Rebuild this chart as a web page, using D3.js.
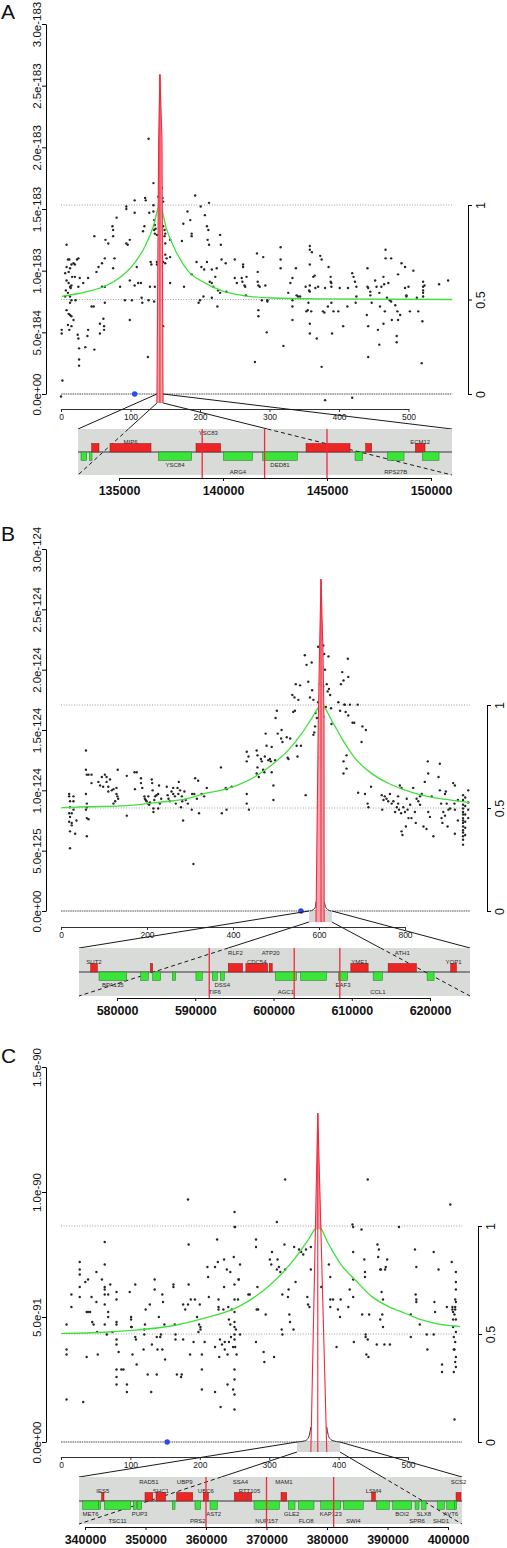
<!DOCTYPE html>
<html><head><meta charset="utf-8">
<script src="https://cdn.jsdelivr.net/npm/d3@7"></script>
<style>
body{margin:0;background:#fff}
svg{display:block;font-family:"Liberation Sans",Arial,Helvetica,sans-serif}
</style>
</head><body>
<svg id="c" width="507" height="1548"></svg>
<script>
// ================= DATA =================
// Panel A
const leftTicksA = [0,0.5,1,1.5,2,2.5,3];
const leftLabelsA = ["0.0e+00","5.0e-184","1.0e-183","1.5e-183","2.0e-183","2.5e-183","3.0e-183"];
const markerTicksA = [0,100,200,300,400,500];
const genomicTicksA = [135000,140000,145000,150000];
const lastMarkerA = 563;
const blueMarkerA = 106;
const windowA = [138,147];
const spikeLeftA = [[138,0],[140.5,2.06],[142.3,2.59]];
const spikeRightA = [[142.3,2.59],[145.3,2.06],[146.8,0]];
const spikeCenterA = [142.3,2.59];
const spikeFillA = [[138,0],[140.5,2.06],[142.3,2.59],[145.3,2.06],[146.8,0]];
const profileA = [];
const redLinesA = [139000,142000,145000];
const greenA = [[1,0.517],[39,0.543],[63,0.57],[87,0.623],[106,0.694],[121,0.782],[133,0.888],[142,1.0],[152,0.871],[164,0.765],[183,0.65],[207,0.588],[231,0.547],[260,0.522],[303,0.508],[375,0.503],[563,0.5]];
const pointsA = [
[1,0.52],[1,0.49],[2,0.11],[8,1.21],[10,1.09],[12,1.09],[8,1.03],[11,0.99],[13,1.02],[15,1.05],[18,1.06],[20,1.05],[23,1.09],[25,1.1],[6,0.98],[8,0.92],[11,0.9],[13,0.87],[15,0.88],[7,0.84],[10,0.82],[13,0.79],[15,0.76],[8,0.68],[11,0.65],[13,0.64],[15,0.63],[18,0.6],[10,0.56],[12,0.52],[15,0.55],[13,0.74],[14,0.86],[16,0.95],[6,0.79],[24,0.48],[25,0.45],[26,0.37],[26,0.28],[26,0.23],[25,0.87],[27,0.94],[21,0.76],[20,0.95],
[32,0.9],[35,0.38],[38,0.47],[39,0.52],[39,0.94],[44,0.71],[47,0.71],[48,1.28],[48,0.36],[51,0.99],[54,1.03],[56,0.49],[56,0.57],[59,0.87],[59,1.06],[61,0.61],[62,0.55],[62,0.52],[63,1.1],[63,0.74],[63,0.87],[64,1.25],[68,1.22],[74,1.36],[75,1.33],[75,1.28],[75,1.02],[77,1.1],[80,1.43],[85,0.87],[92,0.76],[94,1.52],[94,1.5],[94,1.22],[96,1.21],[99,1.25],[99,0.92],[99,0.6],[102,0.76],[106,1.57],[106,1.47],[106,0.88],[109,1.03],[111,0.9],[115,0.9],[116,0.78],[117,0.74],[118,1.32],[120,1.36],[121,1.59],[122,1.57],[125,0.3],[126,2.07],[126,0.76],[127,1.47],[128,0.87],[129,1.07],[130,1.05],
[133,1.71],[133,1.53],[133,1.48],[134,1.41],[135,1.37],[136,1.34],[134,1.33],[135,1.3],[138,1.29],[140,1.6],[138,1.07],[138,1.05],[142,1.63],[145,1.67],[146,1.59],[147,1.56],[147,1.36],[149,1.33],[150,1.3],[149,1.28],[150,1.22],[147,1.07],[150,1.06],[147,0.55],[150,1.13],[152,1.1],[135,0.87],[134,0.75],
[157,1.25],[157,1.11],[157,0.9],[174,1.24],[176,1.38],[177,0.87],[182,1.48],[186,1.41],[188,1.3],[188,1.28],[188,0.97],[193,1.61],[195,1.07],[198,0.74],[200,0.76],[201,1.52],[202,1.03],[205,0.79],[206,1.01],[207,1.45],[210,1.36],[210,1.07],[211,1.25],[212,1.33],[213,1.55],[213,1.21],[214,0.91],[217,0.9],[217,0.78],[217,1.01],[219,0.87],[222,0.95],[224,1.02],[225,0.71],[226,0.84],[229,0.82],[229,1.29],[230,1.21],[231,1.09],[237,1.06],[238,0.83],
[250,1.09],[250,0.94],[253,0.9],[260,0.94],[261,0.91],[262,1.05],[262,1.03],[264,0.88],[265,0.87],[266,0.8],[267,0.95],[279,0.26],[282,1.14],[283,0.99],[283,0.91],[284,0.88],[284,0.68],[284,0.63],[286,0.87],[289,0.76],[291,1.11],[294,0.88],[296,0.5],[297,0.76],[297,0.75],
[316,1.19],[316,1.09],[316,1.02],[320,0.39],[327,0.82],[330,0.9],[333,0.94],[333,0.76],[333,0.71],[333,0.6],[338,1.02],[339,0.8],[341,0.79],[344,0.79],[352,0.87],[353,0.67],[355,0.68],[356,0.74],[357,0.84],[358,1.2],[358,1.17],[358,1.05],[358,0.88],[358,0.83],[358,0.57],[358,0.49],[360,0.67],[361,1.15],[363,0.95],[365,0.96],[366,0.86],[368,0.45],[370,0.87],[373,1.12],[375,1.09],[375,0.22],[377,0.67],[379,0.66],[380,0.86],[384,0.71],[385,1.03],
[388,0.95],[388,0.91],[389,0.9],[389,0.87],[389,0.74],[390,0.49],[392,0.67],[399,0.67],[401,0.86],[406,0.55],[412,0.71],[413,0.86],[419,0.98],[421,0.95],[423,0.91],[424,0.74],[425,0.87],[425,0.79],
[440,0.64],[441,1.02],[441,0.87],[442,0.86],[442,0.55],[442,0.3],[445,0.83],[445,0.8],[447,0.74],[452,0.92],[454,0.87],[456,0.52],[458,0.82],[458,0.4],[459,0.71],[461,0.87],[464,0.95],[464,0.57],[465,0.89],[466,0.67],[467,1.17],[467,1.1],[469,0.78],[471,0.9],[473,0.76],[475,1.1],[475,0.75],[476,0.6],[481,0.72],[483,0.47],[483,0.42],[484,0.67],[485,0.6],[485,0.97],[488,0.64],[490,1.06],[495,1.03],[495,0.86],[497,0.8],[497,0.79],[500,0.87],[502,0.67],[507,1.0],[512,0.78],[514,0.67],[519,0.25],[520,0.59],[521,0.91],[521,0.87],[521,0.84],[521,0.82],[521,0.79],[523,0.88],
[544,0.89],[557,0.92],[380,-0.05],[419,-0.03],[0,-0.02]
];
const genesA = [
["",133686,134038,"+"],["MIP6",134567,136539,"+"],["YSC83",138702,139888,"+"],["",143991,146106,"+"],["",146860,147148,"+"],["ECM12",149248,149712,"+"],
["",133173,133445,"-"],["",133574,133702,"-"],["YSC84",136891,138494,"-"],["ARG4",140016,141427,"-"],["DED81",141907,143574,"-"],["",146347,146715,"-"],["RPS27B",147901,148703,"-"],["",149584,150386,"-"]
];

// Panel B
const leftTicksB = [0,0.5,1,1.5,2,2.5,3];
const leftLabelsB = ["0.0e+00","5.0e-125","1.0e-124","1.5e-124","2.0e-124","2.5e-124","3.0e-124"];
const markerTicksB = [0,200,400,600,800];
const genomicTicksB = [580000,590000,600000,610000,620000];
const lastMarkerB = 951;
const blueMarkerB = 558;
const windowB = [577,630];
const spikeLeftB = [[593,0],[598.4,1.58],[601.2,2.14],[604.7,2.75]];
const spikeRightB = [[604.7,2.75],[609.3,2.14],[611.6,1.58],[612,0]];
const spikeCenterB = [604.7,2.75];
const spikeFillB = [[593,0],[598.4,1.58],[601.2,2.14],[604.7,2.75],[609.3,2.14],[611.6,1.58],[612,0]];
const profileB = [[[579,0],[586,0.01],[591,0.03],[593,0.077]],[[612,0.077],[616,0.03],[621,0.01],[628,0]]];
const redLinesB = [591790,602645,608477];
const greenB = [[2,0.502],[64,0.506],[141,0.51],[219,0.526],[296,0.547],[335,0.571],[374,0.587],[412,0.612],[451,0.652],[490,0.709],[529,0.782],[560,0.862],[583,0.935],[606,1.0],[629,0.927],[653,0.838],[684,0.741],[722,0.668],[761,0.62],[800,0.587],[839,0.563],[878,0.547],[916,0.536],[951,0.526]];
const pointsB = [
[19,0.97],[19,0.95],[21,0.91],[21,0.86],[19,0.81],[21,0.78],[19,0.74],[25,0.81],[29,0.95],[29,0.91],[25,0.73],[21,0.66],[33,0.64],[36,0.75],[21,0.52],[25,0.71],[29,0.84],
[58,1.33],[58,1.17],[60,1.13],[64,1.13],[71,1.13],[58,0.97],[60,0.89],[60,0.86],[58,0.84],[60,0.77],[64,0.76],[60,0.62],[71,1.06],
[87,1.07],[91,1.04],[95,1.11],[98,1.03],[102,1.13],[106,1.11],[106,1.07],[110,0.99],[110,1.03],[114,1.09],[118,1.0],[122,1.01],[129,1.02],[129,0.97],[131,0.95],[132,1.17],[133,0.93],[126,0.91],[122,0.89],
[153,1.12],[153,0.79],[171,1.15],[172,1.01],[176,1.15],[186,1.1],[186,1.06],[189,1.02],
[194,0.95],[195,0.93],[197,0.92],[199,0.91],[202,0.89],[203,0.95],[205,0.88],[207,0.9],[211,1.09],[212,1.06],[213,1.0],[215,0.85],[215,0.82],[217,0.92],[219,0.95],[222,0.96],[226,0.97],[226,0.85],[228,1.04],[230,0.89],[233,0.93],
[246,1.03],[248,0.96],[250,0.93],[253,0.91],[257,0.99],[261,1.02],[261,0.97],[265,0.95],[267,0.89],[271,1.02],[273,0.97],[274,1.07],[277,1.0],[279,0.86],[281,0.95],[282,0.91],[284,0.75],[287,0.99],[290,0.92],[295,0.89],
[304,0.84],[305,0.97],[308,0.39],[310,0.97],[312,1.1],[316,0.93],[319,1.08],[321,0.81],[327,0.97],[333,0.95],[339,1.02],
[372,1.19],[374,0.81],[383,1.02],[385,1.01],[385,0.84],[397,1.03],
[432,1.32],[432,1.24],[432,0.97],[432,0.89],[436,1.28],[437,0.84],[455,1.33],[457,1.19],[457,1.29],[455,1.14],[460,1.11],[465,1.26],[467,1.24],[470,1.17],[473,1.15],[474,1.28],[476,1.47],[478,1.37],[482,1.25],[486,1.26],[488,1.24],[490,1.36],[490,1.15],[494,1.04],[494,0.92],[498,1.25],[499,1.6],[502,1.66],
[504,1.47],[512,1.43],[513,1.5],[515,1.4],[525,1.44],[527,1.27],[529,1.26],[533,1.43],[538,1.79],[540,1.65],[543,1.77],[544,1.66],[546,1.88],[548,1.37],[550,1.28],[552,1.75],[556,1.87],[558,1.37],[567,2.12],[569,0.96],[571,2.04],
[575,1.9],[579,1.77],[583,2.06],[584,1.83],[587,1.75],[587,1.46],[589,1.48],[591,1.53],[592,1.64],[595,1.6],[598,1.73],[601,1.27],[602,1.88],[598,2.19],
[610,2.2],[610,1.86],[610,1.61],[612,2.13],[614,2.0],[616,1.69],[618,1.88],[620,1.82],[622,2.11],[623,1.84],[626,1.79],[628,1.68],[629,1.55],
[645,1.73],[649,1.66],[651,1.88],[654,1.98],[657,1.91],[657,1.24],[657,1.14],[659,1.71],[660,1.71],[662,1.65],[664,1.29],[664,1.18],[667,2.09],[668,1.94],[668,1.62],[672,1.71],[678,1.56],[682,1.56],[690,1.71],[691,0.98],[699,1.4],[701,1.53],[707,0.97],[709,1.5],
[713,0.89],[715,0.86],[721,1.03],
[746,0.96],[747,0.84],[750,0.92],[753,0.95],[757,0.93],[761,0.91],[765,0.97],[769,0.89],[773,0.91],[777,0.82],[781,0.86],[784,0.95],[784,0.89],[786,0.84],[788,1.04],[791,0.81],[792,1.02],[792,0.66],[794,0.63],[796,0.86],[800,0.82],[802,0.7],[804,0.93],[806,0.84],[808,0.77],[812,0.88],[815,0.77],[819,1.02],[823,0.82],[825,0.73],[827,0.93],[831,0.91],[835,0.88],[835,0.95],[839,0.97],[843,0.7],[846,1.07],[850,0.68],[853,1.24],[854,1.14],[854,0.82],[858,0.78],[862,0.95],[866,0.62],[878,1.11],[881,1.22],[881,1.0],[884,0.89],[885,0.77],[887,0.73],[889,0.82],[893,0.97],[893,0.79],[895,0.99],[897,0.89],[899,0.7],[901,0.84],[905,0.85],[912,1.06],[915,0.89],[916,0.64],
[935,0.96],[935,0.92],[935,0.88],[935,0.85],[935,0.82],[935,0.8],[935,0.77],[935,0.75],[935,0.73],[935,0.7],[935,0.67],[935,0.65],[935,0.62],[935,0.59],[935,0.55],
[940,0.94],[940,0.87],[940,0.8],[940,0.74],[940,0.69],[940,0.63],[947,1.0],[947,0.9],[947,0.84],[947,0.77],[923,0.92],[923,0.75],[916,1.04],[916,0.84]
];
const genesB = [
["SUT2",576637,577488,"+"],["",584257,584555,"+"],["RLF2",594217,596048,"+"],["CDC54",596473,599240,"+"],["ATP20",599453,599836,"+"],["YME1",609882,612095,"+"],["ATH1",614649,618268,"+"],["YOP1",622652,623376,"+"],
["BPA135",577701,581235,"-"],["",583022,584001,"-"],["",584555,585577,"-"],["",587066,587492,"-"],["",590088,590897,"-"],["TIF6",592174,592812,"-"],["DSS4",593195,593706,"-"],["AGC1",600219,602944,"-"],["",603454,606775,"-"],["EAF3",608307,609457,"-"],["CCL1",612733,613926,"-"],["",619629,620523,"-"]
];

// Panel C
const leftTicksC = [0,0.5,1,1.5];
const leftLabelsC = ["0.0e+00","5.0e-91","1.0e-90","1.5e-90"];
const markerTicksC = [0,100,200,300,400,500];
const genomicTicksC = [340000,350000,360000,370000,380000,390000,400000];
const lastMarkerC = 578;
const blueMarkerC = 153;
const windowC = [340,402];
const spikeLeftC = [[360,0],[370,1.316]];
const spikeRightC = [[370,1.316],[383,0]];
const spikeCenterC = [370,1.316];
const spikeFillC = [[367,0.85],[370,1.316],[375,0.85]];
const profileC = [[[340,0],[352,0.005],[357,0.02],[360,0.06]],[[383,0.06],[386,0.02],[392,0.005],[402,0]]];
const redLinesC = [360000,370000,381100];
const greenC = [[1,0.503],[63,0.508],[111,0.519],[159,0.537],[207,0.573],[256,0.627],[304,0.735],[337,0.85],[356,0.935],[371,1.0],[385,0.92],[404,0.819],[424,0.75],[448,0.673],[472,0.627],[496,0.596],[520,0.565],[544,0.546],[568,0.537],[575,0.534]];
const pointsC = [
[8,0.47],[8,0.37],[8,0.35],[8,0.17],[15,0.59],[15,0.54],[27,0.72],[27,0.69],[27,0.67],[27,0.62],[27,0.58],[32,0.16],[35,0.64],[37,0.52],[37,0.34],[39,0.65],[39,0.52],[42,0.52],[44,0.58],[45,0.48],[47,0.47],[51,0.68],[51,0.56],[52,0.44],[53,0.35],[59,0.65],[63,0.8],[63,0.71],[63,0.62],[63,0.61],[63,0.59],[63,0.55],[63,0.47],[66,0.43],[68,0.59],[68,0.52],[68,0.5],[71,0.63],[74,0.44],
[80,0.6],[80,0.57],[80,0.48],[80,0.47],[80,0.41],[80,0.39],[80,0.29],[80,0.26],[80,0.23],[83,0.36],[87,0.29],[90,0.29],[95,0.23],[95,0.2],[99,0.6],[101,0.5],[101,0.49],[101,0.46],[102,0.46],[103,0.35],[107,0.63],[107,0.42],[108,0.41],[109,0.31],
[119,0.37],[120,0.45],[120,0.43],[121,0.47],[122,0.53],[125,0.27],[128,0.55],[130,0.2],[131,0.39],[135,0.65],[135,0.61],[138,0.42],[138,0.27],[139,0.37],[141,0.5],[143,0.42],[144,0.43],[146,0.59],[146,0.37],[147,0.56],[149,0.47],[150,0.33],
[162,0.63],[162,0.62],[164,0.47],[165,0.43],[165,0.41],[167,0.27],[173,0.26],[174,0.27],[176,0.55],[176,0.41],[179,0.53],[183,0.55],[183,0.97],[184,0.79],[184,0.63],[186,0.35],[187,0.57],[191,0.4],[193,0.57],[196,0.5],[198,0.44],[199,0.47],[200,0.55],[201,0.46],[201,0.45],[203,0.21],[203,0.29],[203,0.35],[207,0.4],[211,0.7],[212,0.66],[213,0.58],
[222,0.7],[222,0.38],[222,0.2],[225,0.81],[226,0.72],[227,0.57],[227,0.54],[227,0.53],[228,0.34],[229,0.41],[230,0.14],[232,0.39],[234,0.53],[235,0.73],[235,0.62],[236,0.4],[236,0.37],[239,0.69],[240,0.23],[240,0.35],[241,0.54],[242,0.4],[242,0.49],[244,0.68],[244,0.47],[245,0.42],[246,0.53],[248,0.38],[248,0.21],[249,0.74],
[250,0.92],[250,0.86],[250,0.63],[250,0.57],[250,0.52],[250,0.48],[250,0.46],[250,0.43],[250,0.41],[250,0.29],[250,0.25],[250,0.19],[250,0.13],[251,0.38],[252,0.45],[253,0.35],[255,0.57],[256,0.65],[256,0.65],[258,0.43],[258,0.71],[251,0.86],
[270,0.59],[272,0.59],[281,0.81],[281,0.78],[281,0.4],[282,0.53],[283,0.62],[284,0.53],[292,0.36],[293,0.32],[295,0.51],[301,0.73],[303,0.71],[304,0.76],[307,0.34],[311,0.69],[311,0.88],[312,0.73],[314,0.7],[316,0.68],[318,0.45],[319,0.43],[319,0.59],[322,0.79],[323,0.69],[323,1.05],[327,0.58],[328,0.61],[329,0.51],[330,0.48],[335,0.45],[336,0.78],[338,0.64],[343,0.77],[346,0.76],[349,0.75],[353,0.77],[355,0.58],[356,0.55],[358,0.54],[360,0.69],[360,0.78],
[375,0.62],[386,0.71],[388,0.66],[388,0.57],[388,0.54],[392,0.57],[397,0.38],[399,0.53],[402,0.5],[403,0.57],[414,0.54],[416,0.61],[420,0.87],[421,0.76],[421,0.65],[421,0.58],[422,0.4],[421,0.86],
[433,0.85],[434,0.51],[437,0.73],[438,0.68],[438,0.66],[439,0.43],[439,0.42],[440,0.35],[442,0.41],[442,1.05],[443,0.34],[444,0.51],[455,0.39],[456,0.79],[457,0.74],[458,0.77],[460,0.69],[460,0.49],[461,0.69],[462,0.6],[463,0.51],[464,0.57],[464,0.46],[466,0.39],[467,0.69],[468,0.7],[470,0.73],[474,0.39],
[487,0.86],[504,0.42],[504,0.51],[510,0.77],[511,0.59],[512,0.7],[512,0.57],[512,0.56],[517,0.47],[527,0.43],[528,0.37],[537,0.76],[537,0.43],[538,0.56],[539,0.52],[544,0.69],[549,0.31],[549,0.28],[556,0.54],[561,0.95],[563,0.72],[564,0.54],[564,0.53],[565,0.52],[565,0.49],[565,0.46],[566,0.37],[567,0.09],
[569,0.68],[569,0.64],[569,0.61],[568,0.57],[569,0.56],[568,0.54],[568,0.53],[567,0.51],[569,0.49],[569,0.44],[566,0.42],[568,0.4],[567,0.37],[569,0.34],[568,0.32],[569,0.3],[566,0.28]
];
const genesC = [
["IES5",342755,343140,"+"],["RAD51",349918,351190,"+"],["SHC1",351736,353335,"+"],["UBP9",355150,357800,"+"],["UBC6",359560,360390,"+"],["SSA4",364690,366720,"+"],["RTT105",366830,367550,"+"],["MAM1",372400,373340,"+"],["LSM4",387390,387990,"+"],["SCS2",401330,402150,"+"],
["MET6",339615,342200,"-"],["",342260,342590,"-"],["TSC11",343195,347550,"-"],["",347990,348540,"-"],["PUP3",348650,349370,"-"],["",354430,354880,"-"],["PRS2",358180,359120,"-"],["AST2",360660,361870,"-"],["NUP157",367940,372120,"-"],["GLE2",373610,374710,"-"],["FLO8",375260,377850,"-"],["KAP123",378960,382270,"-"],["SWI4",382700,386000,"-"],["",388220,390300,"-"],["BOI2",390860,394000,"-"],["SPR6",394550,395210,"-"],["SLX8",395650,396370,"-"],["SHD1",398300,399390,"-"],["AVT6",399790,401160,"-"],["",401050,401440,"-"]
];
const rightTicks = [0,0.5,1];
const rightLabels = ["0","0.5","1"];
const panelLetters = ["A","B","C"];

// ================= LAYOUT =================
const LAYOUT = [
 {top:24, base:394, rTop:205, x0:61, ppm:0.695, axisX:46, rAxisX:468, mAxisY:409, boxH:9, gp:[78,452,429,475], cy:452, gx:[119,431], gAxisY:478, letterY:19},
 {top:549, base:911, rTop:705, x0:61, ppm:0.43, axisX:46, rAxisX:487, mAxisY:927, boxH:11, gp:[79,470,948,996], cy:972, gx:[117,430], gAxisY:998, letterY:541},
 {top:1067, base:1442, rTop:1226, x0:61, ppm:0.694, axisX:46, rAxisX:478, mAxisY:1457, boxH:10, gp:[79,462,1477,1524], cy:1501, gx:[85,448], gAxisY:1527, letterY:1063}
];
const PANELS = [
 {letter:panelLetters[0], leftTicks:leftTicksA, leftLabels:leftLabelsA, markerTicks:markerTicksA, gTicks:genomicTicksA, lastMarker:lastMarkerA, blue:blueMarkerA, win:windowA, sL:spikeLeftA, sR:spikeRightA, sC:spikeCenterA, sF:spikeFillA, profile:profileA, redLines:redLinesA, green:greenA, points:pointsA, genes:genesA},
 {letter:panelLetters[1], leftTicks:leftTicksB, leftLabels:leftLabelsB, markerTicks:markerTicksB, gTicks:genomicTicksB, lastMarker:lastMarkerB, blue:blueMarkerB, win:windowB, sL:spikeLeftB, sR:spikeRightB, sC:spikeCenterB, sF:spikeFillB, profile:profileB, redLines:redLinesB, green:greenB, points:pointsB, genes:genesB},
 {letter:panelLetters[2], leftTicks:leftTicksC, leftLabels:leftLabelsC, markerTicks:markerTicksC, gTicks:genomicTicksC, lastMarker:lastMarkerC, blue:blueMarkerC, win:windowC, sL:spikeLeftC, sR:spikeRightC, sC:spikeCenterC, sF:spikeFillC, profile:profileC, redLines:redLinesC, green:greenC, points:pointsC, genes:genesC}
];

const svg = d3.select('#c');
const RED = '#f5283c', PINK = '#f3a0a8', GREEN = '#3fe03a';

function drawPanel(d, L) {
  const g = svg.append('g');
  const mMax = d.markerTicks[d.markerTicks.length - 1];
  const x = d3.scaleLinear().domain([0, mMax]).range([L.x0, L.x0 + L.ppm * mMax]);
  const yl = d3.scaleLinear().domain([0, d.leftTicks[d.leftTicks.length - 1]]).range([L.base, L.top]);
  const yr = d3.scaleLinear().domain([0, 1]).range([L.base, L.rTop]);
  const gx = d3.scaleLinear().domain([d.gTicks[0], d.gTicks[d.gTicks.length - 1]]).range(L.gx);
  const xEnd = x(d.lastMarker);

  svg.append('text').attr('x', 1).attr('y', L.letterY).attr('font-size', 21).attr('fill', '#111').text(d.letter);

  g.selectAll('line.ref').data([0.5, 1]).join('line')
    .attr('x1', x(0)).attr('x2', xEnd).attr('y1', v => yr(v)).attr('y2', v => yr(v))
    .attr('stroke', '#9aa0a0').attr('stroke-width', 1).attr('stroke-dasharray', '1,1.6');
  g.append('line').attr('x1', x(0)).attr('x2', xEnd).attr('y1', yl(0)).attr('y2', yl(0))
    .attr('stroke', '#555').attr('stroke-width', 1.1).attr('stroke-dasharray', '1.6,0.7');

  g.append('g').selectAll('circle').data(d.points).join('circle')
    .attr('cx', p => x(p[0])).attr('cy', p => yl(p[1])).attr('r', 1.2).attr('fill', '#262626');

  g.append('path').datum(d.green)
    .attr('d', d3.line().x(p => x(p[0])).y(p => yr(p[1])).curve(d3.curveMonotoneX))
    .attr('fill', 'none').attr('stroke', GREEN).attr('stroke-width', 1.3);

  g.append('circle').attr('cx', x(d.blue)).attr('cy', yl(0)).attr('r', 2.7).attr('fill', '#2b4be6');

  const bx0 = x(d.win[0]), bx1 = x(d.win[1]), by0 = yl(0), by1 = yl(0) + L.boxH;
  g.append('rect').attr('x', bx0).attr('y', by0).attr('width', bx1 - bx0).attr('height', L.boxH).attr('fill', '#d6d6d6');

  d.profile.forEach(seg => {
    g.append('path').datum(seg).attr('d', d3.line().x(p => x(p[0])).y(p => yl(p[1])).curve(d3.curveMonotoneX))
      .attr('fill', 'none').attr('stroke', '#333').attr('stroke-width', 1);
  });

  // spike: value 0 points are extended down to the bottom of the window box
  const ys = v => v <= 0 ? by1 : yl(v);
  const sl = d3.line().x(p => x(p[0])).y(p => ys(p[1]));
  g.append('path').attr('d', sl(d.sF) + 'Z').attr('fill', PINK).attr('opacity', 0.95);
  [d.sL, d.sR].forEach(e => g.append('path').attr('d', sl(e)).attr('fill', 'none').attr('stroke', RED).attr('stroke-width', 1.1));
  g.append('line').attr('x1', x(d.sC[0])).attr('x2', x(d.sC[0])).attr('y1', by1).attr('y2', yl(d.sC[1]))
    .attr('stroke', RED).attr('stroke-width', 1.1);

  const la = g.append('g').attr('transform', `translate(${L.axisX},0)`)
    .call(d3.axisLeft(yl).tickValues(d.leftTicks).tickFormat((v, i) => d.leftLabels[i]).tickSize(4).tickSizeOuter(0));
  la.attr('font-family', null).attr('font-size', null);
  la.selectAll('.tick text').attr('transform', 'rotate(-90)').attr('x', 0).attr('y', -5).attr('dy', 0)
    .attr('text-anchor', 'middle').attr('font-size', 11.5).attr('fill', '#111');

  const ra = g.append('g').attr('transform', `translate(${L.rAxisX},0)`)
    .call(d3.axisRight(yr).tickValues(rightTicks).tickFormat((v, i) => rightLabels[i]).tickSize(4).tickSizeOuter(0));
  ra.attr('font-family', null).attr('font-size', null);
  ra.selectAll('.tick text').attr('transform', 'rotate(-90)').attr('x', 0).attr('y', 17).attr('dy', 0)
    .attr('text-anchor', 'middle').attr('font-size', 12.5).attr('fill', '#111');

  const ma = g.append('g').attr('transform', `translate(0,${L.mAxisY})`)
    .call(d3.axisBottom(x).tickValues(d.markerTicks).tickSize(3).tickSizeOuter(0).tickPadding(2));
  ma.attr('font-family', null).attr('font-size', null);
  ma.selectAll('path,line').attr('stroke', '#333');
  ma.selectAll('.tick text').attr('font-size', 8.5).attr('fill', '#222');

  const [px0, px1, py0, py1] = L.gp;
  const lc = g.append('g').attr('stroke', '#1a1a1a').attr('stroke-width', 1);
  lc.append('line').attr('x1', bx0).attr('y1', by0).attr('x2', px0).attr('y2', py0);
  lc.append('line').attr('x1', bx1).attr('y1', by0).attr('x2', px1).attr('y2', py0);
  const dashSegs = [];
  [[bx0, px0], [bx1, px1]].forEach(([bx, px]) => {
    const t = (py0 - by1) / (py1 - by1);
    const xi = bx + t * (px - bx);
    lc.append('line').attr('x1', bx).attr('y1', by1).attr('x2', xi).attr('y2', py0);
    dashSegs.push([xi, px]);
  });

  const gp = g.append('g');
  gp.append('rect').attr('x', px0).attr('y', py0).attr('width', px1 - px0).attr('height', py1 - py0).attr('fill', '#d9dbd9');
  dashSegs.forEach(([xi, px]) => {
    gp.append('line').attr('x1', xi).attr('y1', py0).attr('x2', px).attr('y2', py1)
      .attr('stroke', '#1a1a1a').attr('stroke-width', 1).attr('stroke-dasharray', '4,3');
  });
  gp.append('line').attr('x1', px0).attr('x2', px1).attr('y1', L.cy).attr('y2', L.cy).attr('stroke', '#222').attr('stroke-width', 0.9);
  const bh = 8.5;
  const clipX = v => Math.max(px0, Math.min(px1, v));
  gp.selectAll('rect.gene').data(d.genes).join('rect')
    .attr('x', r => clipX(gx(r[1]))).attr('width', r => Math.max(0.8, clipX(gx(r[2])) - clipX(gx(r[1]))))
    .attr('y', r => r[3] === '+' ? L.cy - bh : L.cy).attr('height', bh)
    .attr('fill', r => r[3] === '+' ? '#ec2525' : '#3be33b')
    .attr('stroke', r => r[3] === '+' ? '#8a1414' : '#1f7a1f').attr('stroke-width', 0.5);
  ['+', '-'].forEach(s => {
    const lab = d.genes.filter(r => r[3] === s && r[0]).sort((a, b) => a[1] - b[1]);
    gp.selectAll(null).data(lab).join('text')
      .attr('x', r => gx((r[1] + r[2]) / 2))
      .attr('y', (r, i) => s === '+' ? L.cy - (i % 2 ? 19 : 10) : L.cy + (i % 2 ? 20 : 13))
      .attr('dy', '0.35em').attr('text-anchor', 'middle').attr('font-size', 6).attr('fill', '#2a2a2a').text(r => r[0]);
  });
  gp.selectAll('line.rl').data(d.redLines).join('line')
    .attr('x1', v => gx(v)).attr('x2', v => gx(v)).attr('y1', py0).attr('y2', L.gAxisY)
    .attr('stroke', RED).attr('stroke-width', 1.3);

  const ga = g.append('g').attr('transform', `translate(0,${L.gAxisY})`)
    .call(d3.axisBottom(gx).tickValues(d.gTicks).tickFormat(d3.format('d')).tickSize(3).tickSizeOuter(0).tickPadding(5));
  ga.attr('font-family', null).attr('font-size', null);
  ga.selectAll('path,line').attr('stroke', '#111');
  ga.selectAll('.tick text').attr('font-size', 12.5).attr('font-weight', 'bold').attr('fill', '#111');
}

PANELS.forEach((d, i) => drawPanel(d, LAYOUT[i]));
</script>
</body></html>
